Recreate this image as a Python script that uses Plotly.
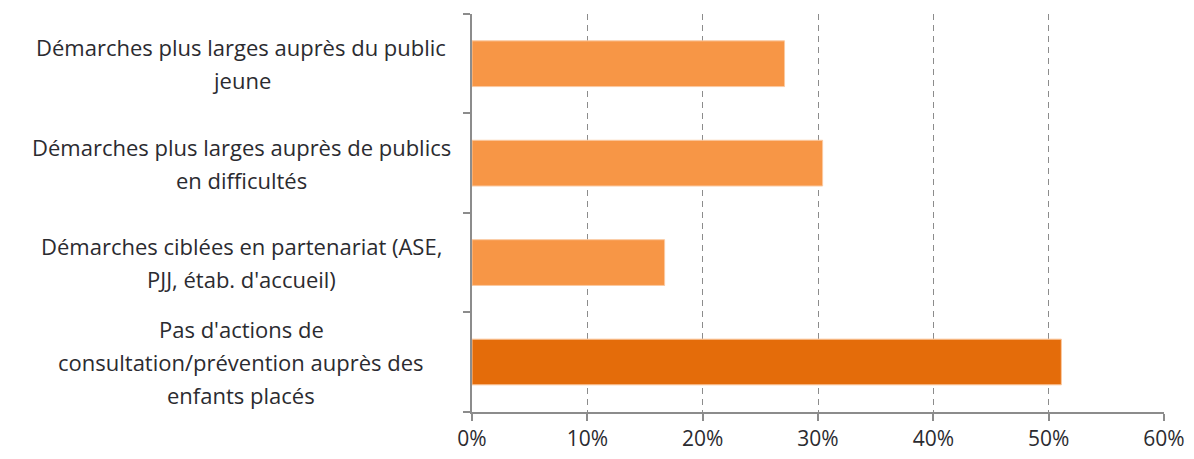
import plotly.graph_objects as go

categories = [
    "Démarches plus larges auprès du public jeune",
    "Démarches plus larges auprès de publics en difficultés",
    "Démarches ciblées en partenariat (ASE, PJJ, étab. d'accueil)",
    "Pas d'actions de consultation/prévention auprès des enfants placés",
]
label_lines = [
    ["Démarches plus larges auprès du public", "jeune"],
    ["Démarches plus larges auprès de publics", "en difficultés"],
    ["Démarches ciblées en partenariat (ASE,", "PJJ, étab. d'accueil)"],
    ["Pas d'actions de", "consultation/prévention auprès des", "enfants placés"],
]
values = [0.271, 0.304, 0.167, 0.511]
colors = ["#F79646", "#F79646", "#F79646", "#E46C0A"]

FONT = "Open Sans"
TEXT = "#2B2B30"
GRID = "#8C8C8C"

fig = go.Figure()
fig.add_trace(go.Bar(
    y=categories, x=values, orientation="h",
    marker=dict(color=colors, line=dict(color="#FBC9A0", width=1)),
    width=0.46, hoverinfo="skip",
))

annotations = []
line_gap = 33
for cat, lines in zip(categories, label_lines):
    n = len(lines)
    for i, ln in enumerate(lines):
        annotations.append(dict(
            x=0, xref="paper", y=cat, yref="y",
            text=ln, showarrow=False, xanchor="center", yanchor="middle",
            xshift=-231, yshift=((n - 1) / 2 - i) * line_gap,
            font=dict(family=FONT, size=22, color=TEXT),
        ))

fig.update_layout(
    width=1194, height=459,
    margin=dict(l=472, r=30, t=14, b=47),
    paper_bgcolor="white", plot_bgcolor="white",
    showlegend=False,
    annotations=annotations,
)
fig.update_xaxes(
    range=[0, 0.6], dtick=0.1, tick0=0, tickformat=".0%",
    showgrid=True, gridcolor=GRID, griddash="6px,5px", gridwidth=1.2,
    zeroline=False, showline=True, linecolor=GRID, linewidth=1.5,
    ticks="outside", ticklen=7, tickcolor=GRID, tickwidth=1.5,
    tickfont=dict(family=FONT, size=21, color=TEXT),
    automargin=False,
)
fig.update_yaxes(
    categoryorder="array", categoryarray=categories[::-1],
    showticklabels=False, showgrid=False, zeroline=False,
    showline=True, linecolor=GRID, linewidth=1.5,
    ticks="outside", ticklen=7, tickcolor=GRID, tickwidth=1.5,
    tickson="boundaries", automargin=False,
)

fig.write_html(
    "out.html",
    config={"displayModeBar": False},
    post_script="document.body.style.margin='0';document.body.style.padding='0';",
)
